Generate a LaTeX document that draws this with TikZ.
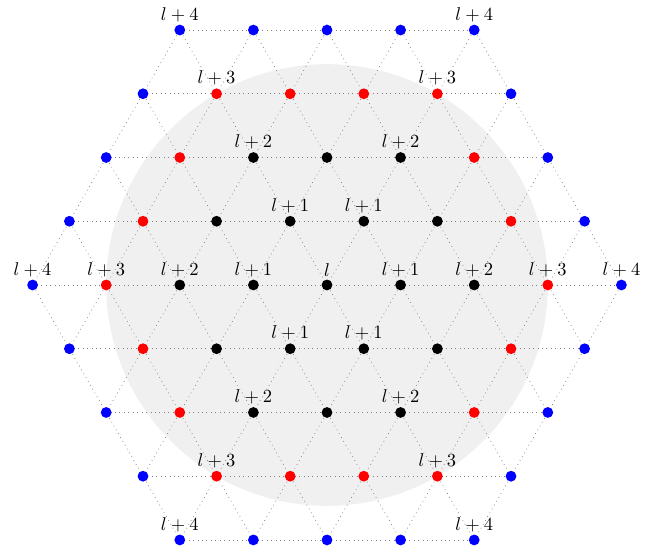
\documentclass[tikz,border=0pt]{standalone}
\pgfdeclarelayer{back}
\pgfdeclarelayer{mid}
\pgfsetlayers{back,mid,main}
\tikzset{
  dot/.style={circle,fill=#1,inner sep=0pt,minimum size=0.205cm},
  edge/.style={gray,dotted,thin},
  lattlabel/.style={label={[inner sep=1.2pt]above:#1}}
}
\begin{document}
\begin{tikzpicture}
\useasboundingbox (-6.220,-5.079) rectangle (6.182,5.421);
\begin{pgfonlayer}{back}
  \fill[gray!12] (0,0) circle (4.2);
\end{pgfonlayer}
% nodes
\foreach \q in {-4,...,4}{
  \foreach \r in {-4,...,4}{
    \pgfmathtruncatemacro\s{\q+\r}
    \pgfmathtruncatemacro\d{max(abs(\q),abs(\r),abs(\s))}
    \pgfmathtruncatemacro\corner{(\q==0)||(\r==0)||(\s==0)}
    \ifnum\d<5
      \def\col{black}
      \ifnum\d=3 \def\col{red}\fi
      \ifnum\d=4 \def\col{blue}\fi
      \ifnum\corner=1
        \ifnum\d=0
          \node[dot=\col,lattlabel={$l$}] (n\q_\r) at ({1.4*(\q+\r/2)},{1.4*0.8660254*\r}) {};
        \else
          \node[dot=\col,lattlabel={$l+\d$}] (n\q_\r) at ({1.4*(\q+\r/2)},{1.4*0.8660254*\r}) {};
        \fi
      \else
        \node[dot=\col] (n\q_\r) at ({1.4*(\q+\r/2)},{1.4*0.8660254*\r}) {};
      \fi
    \fi
  }
}
% edges
\begin{pgfonlayer}{mid}
\foreach \q in {-4,...,4}{
  \foreach \r in {-4,...,4}{
    \pgfmathtruncatemacro\s{\q+\r}
    \pgfmathtruncatemacro\d{max(abs(\q),abs(\r),abs(\s))}
    \ifnum\d<5
      \foreach \dq/\dr in {1/0,0/1,-1/1}{
        \pgfmathtruncatemacro\qq{\q+\dq}
        \pgfmathtruncatemacro\rr{\r+\dr}
        \pgfmathtruncatemacro\dd{max(abs(\qq),abs(\rr),abs(\qq+\rr))}
        \ifnum\dd<5
          \draw[edge] (n\q_\r.center) -- (n\qq_\rr.center);
        \fi
      }
    \fi
  }
}
\end{pgfonlayer}
\end{tikzpicture}
\end{document}
